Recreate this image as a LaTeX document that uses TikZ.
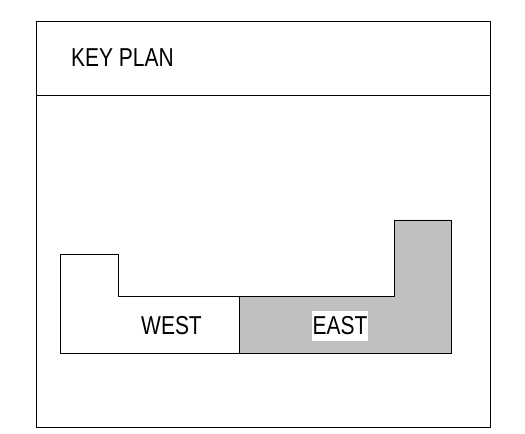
\documentclass[tikz,border=0pt]{standalone}
\usepackage{fontspec}
\setmainfont{Liberation Sans}
\newfontfamily\planfont[FakeStretch=0.81]{Liberation Sans}
\definecolor{eastgrey}{RGB}{192,192,192}
\tikzset{planline/.style={draw=black,line width=0.8pt,line join=miter},
lbl/.style={inner sep=0pt,font=\planfont\fontsize{26pt}{28pt}\selectfont}}
\begin{document}
\begin{tikzpicture}[x=1bp,y=-1bp]
\useasboundingbox (0,0) rectangle (525,434);
\draw[planline] (36,21) rectangle (490,427);
\draw[planline] (36,95) -- (490,95);
\draw[planline] (239,296) -- (118,296) -- (118,254) -- (60,254) -- (60,353) -- (239,353);
\draw[planline,fill=eastgrey] (239,296) -- (394,296) -- (394,220) -- (451,220) -- (451,353) -- (239,353) -- cycle;
\node[lbl] (key) at (122.5,58) {KEY PLAN};
\node[lbl] (west) at (171.5,326) {WEST};
\node[lbl,fill=white,minimum width=56bp,minimum height=30bp] (east) at (340,325.5) {EAST};
\end{tikzpicture}
\end{document}
